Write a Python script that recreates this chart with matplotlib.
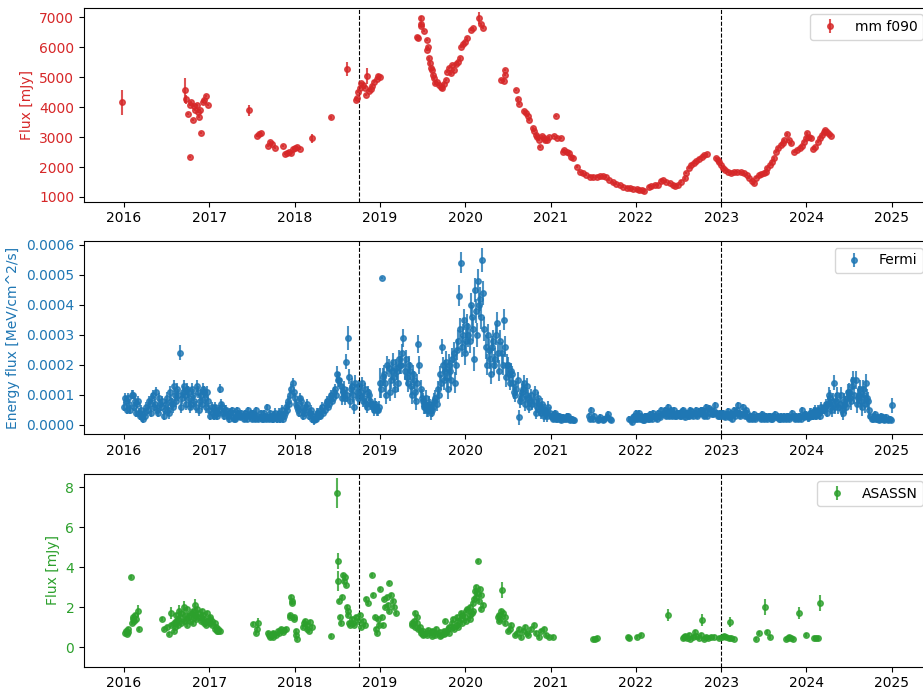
import numpy as np
import matplotlib
matplotlib.use("Agg")
import matplotlib.pyplot as plt

# ---------------- data ----------------
# mm f090 (mJy)
mm_t = [2015.98,
        2016.715, 2016.72, 2016.745, 2016.77, 2016.775, 2016.79, 2016.81, 2016.82, 2016.83,
        2016.85, 2016.87, 2016.88, 2016.89, 2016.90, 2016.92, 2016.94, 2016.96, 2016.98,
        2017.47, 2017.56, 2017.58, 2017.60,
        2017.69, 2017.71, 2017.73, 2017.77, 2017.86, 2017.89, 2017.91, 2017.93, 2017.96,
        2017.98, 2018.00, 2018.03, 2018.06,
        2018.20, 2018.42, 2018.61,
        2018.72, 2018.73, 2018.74, 2018.76, 2018.78, 2018.80, 2018.83, 2018.84, 2018.85,
        2018.87, 2018.89, 2018.91, 2018.93, 2018.96, 2018.98, 2019.00,
        2019.435, 2019.44, 2019.475, 2019.48, 2019.485, 2019.52, 2019.55, 2019.555, 2019.56,
        2019.58, 2019.585, 2019.60, 2019.605, 2019.62, 2019.63, 2019.645, 2019.67, 2019.69,
        2019.715, 2019.73, 2019.75, 2019.775, 2019.79, 2019.81, 2019.83, 2019.84, 2019.87,
        2019.89, 2019.91, 2019.94, 2019.95, 2019.97, 2020.00, 2020.02, 2020.07, 2020.09,
        2020.165, 2020.19, 2020.21,
        2020.42, 2020.45, 2020.46, 2020.47,
        2020.60, 2020.62, 2020.635,
        2020.69, 2020.71, 2020.73, 2020.75,
        2020.79, 2020.81, 2020.83, 2020.84, 2020.86, 2020.88, 2020.90, 2020.92, 2020.94,
        2020.96, 2020.985,
        2021.065, 2021.04, 2021.08, 2021.12,
        2021.14, 2021.16, 2021.19, 2021.21, 2021.24, 2021.26,
        2021.31, 2021.34, 2021.38, 2021.42, 2021.46, 2021.50, 2021.54, 2021.58, 2021.62, 2021.65,
        2021.69, 2021.73, 2021.77, 2021.81, 2021.85, 2021.89, 2021.93, 2021.97, 2022.01,
        2022.04, 2022.07, 2022.09,
        2022.15, 2022.18, 2022.22, 2022.26, 2022.30, 2022.32, 2022.35,
        2022.40, 2022.43, 2022.46, 2022.49, 2022.53, 2022.57,
        2022.59, 2022.62, 2022.65, 2022.68, 2022.71, 2022.74, 2022.77, 2022.80, 2022.83,
        2022.94, 2022.96, 2022.98, 2023.00,
        2023.02, 2023.05, 2023.08, 2023.11,
        2023.15, 2023.19, 2023.23, 2023.27, 2023.30, 2023.33, 2023.36, 2023.38,
        2023.41, 2023.44, 2023.47, 2023.50, 2023.52, 2023.54, 2023.57, 2023.60, 2023.62,
        2023.64, 2023.67, 2023.70, 2023.72, 2023.74, 2023.77,
        2023.80, 2023.82,
        2023.85, 2023.89, 2023.92, 2023.95, 2023.97, 2023.99, 2024.01, 2024.03, 2024.05,
        2024.08, 2024.10, 2024.14, 2024.16, 2024.18, 2024.20, 2024.22, 2024.24, 2024.26, 2024.29]
mm_v = [4157,
        4567, 4257, 3777, 2343, 4067, 4177, 3567, 4033, 3900,
        4067, 3843, 3677, 3900, 3143, 4177, 4233, 4377, 4067,
        3890, 3033, 3090, 3143,
        2711, 2822, 2757, 2644, 2700, 2433, 2480, 2511, 2467,
        2600, 2633, 2667, 2600,
        2957, 3657, 5267,
        4250, 4300, 4500, 4650, 4800, 4750, 4650, 4400, 5050,
        4550, 4600, 4700, 4850, 4950, 5050, 5000,
        6344, 6311, 6711, 6789, 6956, 6533, 6233, 5900, 6011,
        5623, 5456, 5289, 5233, 5067, 4956, 4789, 4844, 4733,
        4678, 4622, 4756, 4900, 5178, 5311, 5122, 5400, 5233,
        5422, 5511, 5622, 6011, 6089, 6178, 6289, 6567, 6644,
        6978, 6756, 6644,
        4900, 4867, 5067, 5233,
        4567, 4256, 4111,
        3867, 3789, 3700, 3567,
        3289, 3211, 3078, 2989, 2911, 2678, 3022, 2967, 2911,
        2911, 2989,
        3700, 3033, 2967, 2967,
        2511, 2567, 2511, 2456, 2344, 2289,
        2011, 1844, 1789, 1733, 1678, 1678, 1678, 1700, 1700, 1678,
        1567, 1489, 1433, 1400, 1344, 1311, 1289, 1267, 1256,
        1233, 1233, 1200,
        1344, 1367, 1400, 1400, 1544, 1567, 1511,
        1467, 1400, 1367, 1400, 1511, 1622,
        1800, 1967, 2078, 2133, 2211, 2278, 2333, 2389, 2433,
        2300, 2244, 2167, 2078,
        1978, 1900, 1844, 1789,
        1844, 1844, 1822, 1789, 1733, 1644, 1533, 1456,
        1644, 1733, 1756, 1789, 1844, 1956, 2067, 2178, 2289,
        2511, 2622, 2733, 2811, 2900, 3089,
        2900, 2789,
        2511, 2567, 2644, 2711, 2844, 2956, 3122, 3011, 2956,
        2600, 2678, 2844, 2956, 3067, 3178, 3233, 3178, 3089, 3044]
mm_err_default = 40
mm_err_large = {2015.98: 420, 2016.715: 420, 2016.72: 150, 2017.47: 180, 2018.20: 150,
                2018.61: 230, 2018.85: 270, 2020.165: 200, 2019.485: 100}

# Fermi energy flux, in units of 1e-5 MeV/cm^2/s.
# Two interleaved series of bins (0.025 yr apart, offset by half a bin), one row per quarter.
fermi_start = 2016.0
fermi_bin = 0.025
nan = np.nan
fermi_rows_a = [
    # 2016
    [6, 8, 9, 5, 10, 8, 7, 4, 5, 2],
    [3, 5, 7, 9, 6, 11, 4, 7, 8, 5],
    [9, 4, 8, 6, 10, 12, 24, 9, 13, 7],
    [11, 6, 12, 8, 13, 5, 10, 12, 9, 11],
    # 2017
    [5, 6, 3, 5, 4, 12, 6, 3, 5, 2],
    [3, 4, 2, 5, 3, 4, 2, 3, 5, 3],
    [2, 3, 5, 2, 4, 2, 3, 6, 2, 3],
    [2, 4, 3, 2, 5, 3, 6, 8, 10, 14],
    # 2018
    [9, 6, 4, 8, 3, 5, 7, 4, 2, 1.5],
    [2, 4, 3, 6, 5, 8, 7, 10, 9, 12],
    [17, 15, 9, 12, 21, 29, 8, 13, 6, 11],
    [13, 11, 8, 12, 6, 10, 7, 5, 6, 5],
    # 2019
    [14, 49, 17, 10, 19, 15, 21, 12, 18, 22],
    [20, 29, 22, 14, 18, 10, 15, 8, 27, 12],
    [8, 6, 5, 7, 4, 6, 9, 12, 17, 26],
    [15, 21, 12, 18, 22, 14, 25, 43, 54, 30],
    # 2020
    [24, 33, 28, 36, 22, 38, 48, 42, 55, 32],
    [20, 25, 17, 28, 22, 34, 18, 24, 35, 16],
    [20, 14, 17, 11, 12, 2.5, 9, 12, 7, 13],
    [6, 10, 8, 4, 9, 5, 7, 3, 4, 6],
    # 2021
    [3, 2, 4, 2, 3, 1.5, 2.5, 2, 3, 1.5],
    [2, 1.5, nan, nan, nan, nan, nan, nan, 3, 5],
    [2, nan, 1.5, 2.5, nan, 2, nan, 3.5, 2, nan],
    [nan, nan, nan, nan, nan, nan, nan, 2, 1, 3],
    # 2022
    [4, 3, 2, 2.5, 1.5, 3, 2, 2.5, 4, 3],
    [2, 3, 5, 4, 3, 6, 4, 3, 5, 3],
    [4, 3, 5, 2.5, 4, 3, 4.5, 3, 5, 3.5],
    [4, 5, 3, 6, 4, 5, 3.5, 6.5, 4, 3],
    # 2023
    [3, 4, 2.5, 4.5, 3, 2, 5, 4, 6.5, 3],
    [6, 3, 4, 2, 3, 2.5, 2, 3, 2.5, 3.5],
    [2, 3, 2.5, 3, 2, 3.5, 2.5, 2, 3, 2],
    [2.5, 3, 2, 4, 2.5, 3, 2, 3, 5, 2.5],
    # 2024
    [3, 2.5, 4, 3, 5, 3.5, 4, 6, 5, 7],
    [7, 9, 5, 14, 8, 6, 10, 4, 7, 9],
    [11, 8, 15, 15, 9, 12, 6, 10, 14, 8],
    [3, 2, 3.5, 2, 1.5, 3, 2.5, 2, 1.5, 2],
]
fermi_rows_b = [
    # 2016
    [9, 5, 7, 10, 6, 4, 8, 3, 2.5, 4],
    [6, 8, 4, 10, 7, 5, 9, 6, 3, 7],
    [5, 11, 7, 13, 8, 10, 6, 11, 10, 12],
    [9, 7, 10, 6, 11, 8, 7, 11, 6, 8],
    # 2017
    [3, 4, 6, 3, 5, 7, 4, 5, 3, 4],
    [5, 2, 3, 4, 2.5, 3, 4, 2, 3, 4],
    [4, 2, 3, 2.5, 2, 4, 2, 2.5, 4, 2],
    [3, 2, 4, 3, 2, 4, 5, 7, 12, 11],
    # 2018
    [7, 5, 9, 6, 4, 6, 3, 5, 3, 2],
    [4, 3, 5, 4, 7, 6, 9, 8, 11, 10],
    [15, 13, 11, 9, 10, 16, 12, 10, 14, 9],
    [10, 14, 9, 7, 11, 8, 6, 7, 5, 6],
    # 2019
    [12, 16, 14, 20, 11, 18, 16, 19, 14, 20],
    [24, 18, 16, 20, 13, 17, 11, 14, 20, 9],
    [6, 9, 5, 6, 5, 8, 7, 10, 14, 20],
    [18, 16, 20, 15, 24, 20, 28, 32, 26, 35],
    # 2020
    [28, 30, 40, 32, 45, 30, 40, 36, 44, 26],
    [30, 22, 26, 20, 30, 24, 28, 20, 26, 20],
    [17, 18, 14, 10, 15, 8, 11, 14, 10, 9],
    [8, 7, 11, 6, 7, 4, 5, 5, 3, 4],
    # 2021
    [2.5, 3.5, 2, 3, 2, 2.5, 2, 3, 2, 2],
    [1.5, nan, nan, nan, nan, nan, nan, nan, 2, nan],
    [3, nan, 2, nan, 1.5, nan, 2.5, nan, 1.5, nan],
    [nan, nan, nan, nan, nan, nan, nan, 1.5, 2.5, 2],
    # 2022
    [2, 4, 3, 1.5, 3, 2, 3.5, 2, 3, 2.5],
    [4, 2.5, 3.5, 5, 4, 3, 5, 4, 3, 4],
    [3, 4.5, 3.5, 4, 3, 5, 3.5, 4, 3, 4.5],
    [5, 3.5, 4.5, 3, 5.5, 3.5, 4.5, 4, 3, 4],
    # 2023
    [4, 3, 3.5, 2.5, 4, 3.5, 3, 5, 4, 3.5],
    [4, 5, 2.5, 3, 2, 3.5, 2.5, 3, 2, 3],
    [3, 2, 3, 2, 3, 2.5, 3, 2, 2.5, 3],
    [2, 3, 2.5, 3, 2, 2.5, 3, 2, 3, 3.5],
    # 2024
    [2.5, 4, 3, 4.5, 3, 5, 3, 5, 6, 4],
    [10, 6, 8, 6, 10, 7, 5, 8, 6, 11],
    [9, 13, 10, 7, 10, 8, 12, 7, 9, 5],
    [2, 3, 2, 2.5, 2, 2, 1.5, 2.5, 2, 1.5],
]
fermi_last_t = 2025.0
fermi_last_v = 6.5
fermi_last_e = 2.5
# typical uncertainty per quarter (1e-5 units)
fermi_qerr = [1.5, 1.5, 2, 2,
              1.5, 1, 1, 1.5,
              1.5, 1.5, 2.5, 2,
              3, 3, 2.5, 3.5,
              4, 3.5, 2.5, 2,
              1, 1, 1, 1,
              1, 1, 1, 1,
              1, 1, 1, 1,
              1.5, 2.5, 3, 1]
fermi_err_override = {2016.65: 2.5, 2018.625: 4.0, 2019.025: 0.3, 2019.0: 5.0}

# ASAS-SN (mJy)
asassn_t = [2016.01, 2016.02, 2016.03, 2016.04, 2016.05, 2016.08, 2016.09, 2016.10, 2016.11, 2016.12,
            2016.13, 2016.14, 2016.16, 2016.17,
            2016.45, 2016.47, 2016.50, 2016.53,
            2016.55, 2016.555, 2016.58, 2016.585, 2016.60, 2016.605, 2016.61, 2016.63, 2016.635,
            2016.64, 2016.66, 2016.665, 2016.67,
            2016.70, 2016.705, 2016.71, 2016.73, 2016.735, 2016.74, 2016.76, 2016.765, 2016.77,
            2016.80, 2016.805, 2016.81, 2016.815,
            2016.83, 2016.835, 2016.84, 2016.86, 2016.865, 2016.87, 2016.90, 2016.905, 2016.91,
            2016.93, 2016.935, 2016.94, 2016.96, 2016.965, 2016.97,
            2017.00, 2017.005, 2017.01, 2017.03, 2017.035, 2017.06, 2017.065, 2017.08, 2017.085,
            2017.10, 2017.105, 2017.13,
            2017.51, 2017.55, 2017.56, 2017.57,
            2017.69, 2017.70, 2017.71, 2017.72, 2017.73, 2017.74, 2017.75, 2017.76, 2017.78,
            2017.80, 2017.82, 2017.84, 2017.86, 2017.88, 2017.90,
            2017.94, 2017.945, 2017.96, 2017.965, 2017.97, 2017.99, 2017.995,
            2018.01, 2018.02, 2018.03,
            2018.10, 2018.11, 2018.12, 2018.14, 2018.15, 2018.17, 2018.18, 2018.20,
            2018.42,
            2018.50, 2018.505, 2018.51,
            2018.52, 2018.53, 2018.54, 2018.55, 2018.57, 2018.58, 2018.59, 2018.60, 2018.61,
            2018.62, 2018.63, 2018.64, 2018.65,
            2018.67, 2018.68, 2018.70, 2018.72, 2018.74,
            2018.76, 2018.78, 2018.80, 2018.82, 2018.84, 2018.86, 2018.91, 2018.92, 2018.94,
            2018.95, 2018.96, 2018.98, 2018.99,
            2019.00, 2019.02, 2019.03, 2019.05, 2019.06, 2019.08, 2019.09, 2019.10, 2019.11,
            2019.13, 2019.15, 2019.17, 2019.19,
            2019.37, 2019.375, 2019.40, 2019.405, 2019.41, 2019.43, 2019.435, 2019.44,
            2019.47, 2019.475, 2019.48, 2019.50, 2019.505, 2019.51, 2019.55, 2019.555, 2019.56,
            2019.60, 2019.605, 2019.61, 2019.65, 2019.655, 2019.66, 2019.70, 2019.705, 2019.71,
            2019.75, 2019.755, 2019.76, 2019.765, 2019.80, 2019.805, 2019.81,
            2019.85, 2019.855, 2019.86, 2019.865, 2019.90, 2019.905, 2019.91, 2019.915,
            2019.95, 2019.955, 2019.96, 2019.965, 2020.00, 2020.005, 2020.01, 2020.015,
            2020.05, 2020.055, 2020.06, 2020.08, 2020.085, 2020.09,
            2020.10, 2020.11, 2020.12, 2020.13, 2020.14, 2020.15, 2020.16, 2020.17, 2020.18,
            2020.19, 2020.21,
            2020.38, 2020.39, 2020.40, 2020.41, 2020.42, 2020.43, 2020.44, 2020.46, 2020.47,
            2020.50, 2020.52, 2020.54,
            2020.58, 2020.61, 2020.63, 2020.65, 2020.68, 2020.70, 2020.72, 2020.74, 2020.77,
            2020.80, 2020.83, 2020.86, 2020.89, 2020.92, 2020.95, 2020.98,
            2021.03,
            2021.50, 2021.52, 2021.54,
            2021.91, 2021.92, 2022.01, 2022.06,
            2022.38,
            2022.55, 2022.56, 2022.58, 2022.60, 2022.62, 2022.64, 2022.67, 2022.69, 2022.71,
            2022.74, 2022.76, 2022.78, 2022.80, 2022.82, 2022.85, 2022.88, 2022.92,
            2022.98, 2023.01, 2023.03, 2023.06, 2023.09, 2023.10, 2023.12, 2023.15,
            2023.41, 2023.44, 2023.51, 2023.54, 2023.57,
            2023.76, 2023.78, 2023.80, 2023.82, 2023.84,
            2023.91, 2024.00, 2024.09, 2024.11, 2024.13, 2024.16]
asassn_v = [0.7, 0.8, 0.65, 0.9, 0.75, 3.5, 1.2, 1.4, 1.5, 1.3,
            1.6, 1.4, 1.8, 0.9,
            1.4, 0.9, 1.0, 0.65,
            1.1, 1.7, 1.2, 0.8, 1.0, 1.3, 1.6, 1.4, 1.1,
            1.8, 1.5, 1.2, 1.7,
            1.3, 2.0, 1.6, 1.4, 1.9, 1.1, 1.6, 1.5, 1.3,
            1.7, 1.8, 1.2, 1.5,
            2.1, 1.6, 1.4, 1.9, 1.7, 1.5, 1.5, 1.3, 1.8,
            1.6, 1.2, 1.4, 1.3, 1.1, 1.7,
            1.2, 1.5, 1.4, 1.1, 1.3, 0.9, 1.2, 1.0, 0.8,
            0.9, 0.8, 0.8,
            1.15, 0.7, 0.9, 1.2,
            0.7, 0.6, 0.5, 0.55, 0.6, 0.5, 0.7, 0.65, 0.6,
            0.8, 0.7, 0.9, 0.75, 0.85, 0.9,
            1.5, 1.6, 2.5, 2.3, 2.2, 1.4, 1.5,
            0.8, 0.6, 0.4,
            1.0, 1.2, 1.3, 0.9, 1.1, 0.8, 1.25, 1.0,
            0.55,
            7.7, 4.3, 3.3,
            2.3, 1.5, 1.2, 2.5, 3.6, 3.3, 3.5, 3.1, 2.0,
            1.8, 1.6, 1.2, 1.1,
            1.4, 1.2, 1.1, 1.5, 1.3,
            1.6, 1.0, 1.3, 1.1, 2.4, 2.2, 3.6, 2.6, 1.5,
            0.9, 0.7, 1.4, 1.1,
            2.9, 1.5, 1.1, 2.4, 2.0, 2.5, 2.1, 1.8, 3.2,
            2.6, 2.3, 2.0, 1.7,
            1.2, 1.1, 1.3, 1.7, 1.0, 1.5, 1.2, 0.9,
            1.0, 0.8, 0.7, 0.6, 0.8, 0.65, 0.7, 0.6, 0.85,
            0.75, 0.55, 0.8, 0.6, 0.7, 0.9, 0.55, 0.75, 0.6,
            0.8, 0.65, 0.7, 1.3, 0.9, 1.0, 0.7,
            1.2, 1.4, 1.0, 0.9, 1.1, 1.5, 1.3, 1.0,
            1.4, 1.7, 1.2, 1.6, 1.5, 1.8, 1.3, 1.9,
            1.6, 2.0, 1.4, 1.7, 2.2, 1.8,
            2.4, 2.8, 3.0, 2.5, 2.7, 4.3, 2.3, 2.9, 2.6,
            1.9, 2.1,
            1.5, 1.6, 1.3, 1.4, 1.8, 2.85, 1.7, 1.2, 1.5,
            0.8, 0.9, 1.1,
            0.6, 0.7, 0.9, 0.5, 0.8, 1.0, 0.7, 0.6, 0.9,
            1.1, 0.7, 0.5, 0.8, 0.9, 0.6, 0.5,
            0.5,
            0.4, 0.4, 0.45,
            0.5, 0.45, 0.5, 0.6,
            1.6,
            0.45, 0.5, 0.55, 0.45, 0.6, 0.4, 0.5, 0.75, 0.55,
            0.45, 0.6, 1.35, 0.4, 0.5, 0.45, 0.5, 0.5,
            0.45, 0.5, 0.55, 0.5, 0.45, 1.25, 0.45, 0.4,
            0.4, 0.7, 2.0, 0.75, 0.5,
            0.4, 0.45, 0.5, 0.45, 0.4,
            1.7, 0.6, 0.45, 0.45, 0.45, 2.2]
asassn_err_default = 0.1
asassn_err_large = {2016.16: 0.3, 2016.555: 0.3, 2016.64: 0.3, 2016.705: 0.3, 2016.83: 0.3,
                    2017.57: 0.25, 2018.50: 0.75, 2018.505: 0.4, 2018.51: 0.5, 2020.43: 0.4,
                    2022.38: 0.3, 2022.78: 0.3, 2023.10: 0.25, 2023.51: 0.4, 2023.91: 0.3,
                    2024.16: 0.4}

vlines = [2018.75, 2023.0]
year_ticks = list(range(2016, 2026))
mm_ticks = [1000, 2000, 3000, 4000, 5000, 6000, 7000]
fermi_ticks = [0, 0.0001, 0.0002, 0.0003, 0.0004, 0.0005, 0.0006]
fermi_tick_labels = ['0.0000', '0.0001', '0.0002', '0.0003', '0.0004', '0.0005', '0.0006']
asassn_ticks = [0, 2, 4, 6, 8]

# ---------------- build arrays ----------------
mm_t_a = np.array(mm_t)
mm_v_a = np.array(mm_v, dtype=float)
mm_e_a = np.array([mm_err_large.get(round(t, 3), mm_err_default) for t in mm_t], dtype=float)

qerr = np.repeat(np.array(fermi_qerr, dtype=float), 10)
fa = np.concatenate([np.array(r, dtype=float) for r in fermi_rows_a])
fb = np.concatenate([np.array(r, dtype=float) for r in fermi_rows_b])
ta = fermi_start + fermi_bin * np.arange(len(fa))
tb = ta + fermi_bin / 2
ea = qerr.copy()
for i, t in enumerate(ta):
    k = round(t, 3)
    if k in fermi_err_override:
        ea[i] = fermi_err_override[k]
ft = np.concatenate([ta, tb, [fermi_last_t]])
fv = np.concatenate([fa, fb, [fermi_last_v]])
fe = np.concatenate([ea, qerr, [fermi_last_e]])
ok = ~np.isnan(fv)
order = np.argsort(ft[ok])
ft, fv, fe = ft[ok][order], fv[ok][order] * 1e-5, fe[ok][order] * 1e-5

as_t = np.array(asassn_t)
as_v = np.array(asassn_v, dtype=float)
as_e = np.array([asassn_err_large.get(round(t, 3), asassn_err_default) for t in asassn_t])

# ---------------- plot ----------------
W, H = 923, 689
fig = plt.figure(figsize=(W / 100, H / 100), dpi=100)

def ax_at(left, top, right, bottom):
    return fig.add_axes([left / W, 1 - bottom / H, (right - left) / W, (bottom - top) / H])

xl = (2015.53, 2025.45)
left_px = 84
px_per_year = 85.3
right_px = left_px + (xl[1] - xl[0]) * px_per_year

ax1 = ax_at(left_px, 7.5, right_px, 201.7)
ax2 = ax_at(left_px, 241, right_px, 434)
ax3 = ax_at(left_px, 474, right_px, 666.7)

kw = dict(fmt='o', ms=4, alpha=0.8, elinewidth=1.5)
ax1.errorbar(mm_t_a, mm_v_a, yerr=mm_e_a, color='tab:red', label='mm f090', **kw)
ax2.errorbar(ft, fv, yerr=fe, color='tab:blue', label='Fermi', **kw)
ax3.errorbar(as_t, as_v, yerr=as_e, color='tab:green', label='ASASSN', **kw)

ax1.set_ylim(843, 7323)
ax2.set_ylim(-0.00003, 0.000613)
ax3.set_ylim(-0.97, 8.66)

ax1.set_ylabel('Flux [mJy]', color='tab:red')
ax2.set_ylabel('Energy flux [MeV/cm^2/s]', color='tab:blue')
ax3.set_ylabel('Flux [mJy]', color='tab:green')

for ax, c in [(ax1, 'tab:red'), (ax2, 'tab:blue'), (ax3, 'tab:green')]:
    ax.set_xlim(*xl)
    ax.set_xticks(year_ticks)
    ax.set_xticklabels([str(y) for y in year_ticks])
    ax.tick_params(axis='y', labelcolor=c)
    for v in vlines:
        ax.axvline(v, color='black', ls='--', lw=0.8)
    ax.legend(loc='upper right')

ax1.set_yticks(mm_ticks)
ax2.set_yticks(fermi_ticks)
ax2.set_yticklabels(fermi_tick_labels)
ax3.set_yticks(asassn_ticks)

fig.savefig('out.png', dpi=100)
